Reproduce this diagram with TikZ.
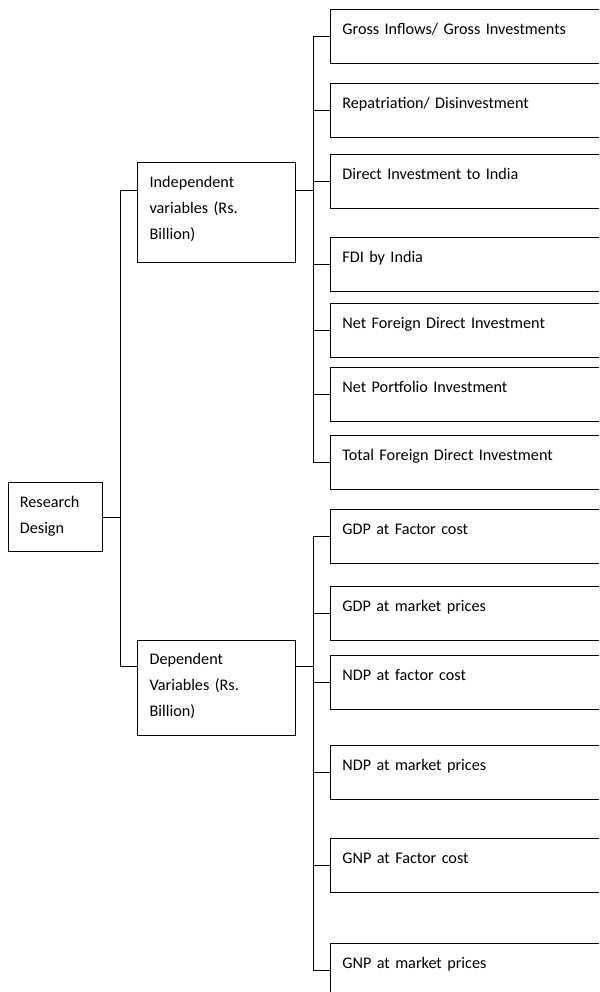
\documentclass[tikz,border=0pt]{standalone}
\usepackage{fontspec}
\setmainfont{Carlito}
\usetikzlibrary{calc,positioning}

\begin{document}
\begin{tikzpicture}[x=1pt, y=-1pt, font=\fontsize{16.2}{26}\selectfont,
		line width=0.8pt,
		leafbox/.style={draw, anchor=north west, align=left, inner xsep=12pt, inner ysep=0pt,
			text width=276pt, text height=25pt, text depth=29pt},
		midbox/.style={draw, anchor=north west, align=left, inner xsep=12pt, inner ysep=0pt,
			text width=133.5pt, text height=25pt}]
		\useasboundingbox (0,0) rectangle (599,992);
		\clip (0,0) rectangle (599,992);
		
		% Root
		\node[midbox, text width=70.3pt, text depth=44pt] (rd) at (7.5,482.3) {Research\\Design};
		
		% Two groups of variables
		\node[midbox, text depth=75.5pt] (indep) at (137.2,161.7) {Independent\\variables (Rs.\\Billion)};
		\node[midbox, text depth=70pt] (dep) at (137.2,639.5) {Dependent\\Variables (Rs.\\Billion)};
		
		% Independent variables
		\node[leafbox] (gross) at (330,9.3) {Gross Inflows/ Gross Investments};
		\node[leafbox] (repat) at (330,83.3) {Repatriation/ Disinvestment};
		\node[leafbox] (diri) at (330,154) {Direct Investment to India};
		\node[leafbox] (fdii) at (330,237.3) {FDI by India};
		\node[leafbox] (netfdi) at (330,303.3) {Net Foreign Direct Investment};
		\node[leafbox] (netpi) at (330,367.3) {Net Portfolio Investment};
		\node[leafbox] (totfdi) at (330,435) {Total Foreign Direct Investment};
		
		% Dependent variables
		\node[leafbox] (gdpfc) at (330,509.3) {GDP at Factor cost};
		\node[leafbox] (gdpmp) at (330,586) {GDP at market prices};
		\node[leafbox] (ndpfc) at (330,655.3) {NDP at factor cost};
		\node[leafbox] (ndpmp) at (330,745) {NDP at market prices};
		\node[leafbox] (gnpfc) at (330,838.3) {GNP at Factor cost};
		\node[leafbox] (gnpmp) at (330,943.3) {GNP at market prices};
		
		% Connectors from the root
		\coordinate (lbus) at ($(rd.east)+(18.2,0)$);
		\coordinate (indepin) at ($(indep.north west)+(0,28.3)$);
		\coordinate (depin) at ($(dep.north west)+(0,26.7)$);
		\draw (rd.east) -- (lbus);
		\draw (lbus) |- (indepin);
		\draw (lbus) |- (depin);
		
		% Connectors to the independent variables
		\coordinate (indepout) at ($(indep.north east)+(0,28.3)$);
		\coordinate (ibus) at ($(indepout)+(17.8,0)$);
		\draw (indepout) -- (ibus);
		\foreach \leaf in {gross,repat,diri,fdii,netfdi,netpi,totfdi}
			\draw (ibus) |- (\leaf.west);
		
		% Connectors to the dependent variables
		\coordinate (depout) at ($(dep.north east)+(0,26.7)$);
		\coordinate (dbus) at ($(depout)+(17.8,0)$);
		\draw (depout) -- (dbus);
		\foreach \leaf in {gdpfc,gdpmp,ndpfc,ndpmp,gnpfc,gnpmp}
			\draw (dbus) |- (\leaf.west);
	\end{tikzpicture}
\end{document}
